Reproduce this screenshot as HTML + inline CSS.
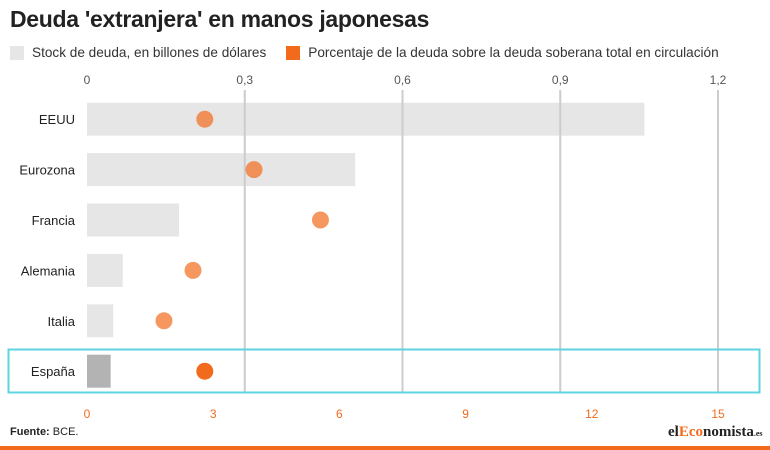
<!DOCTYPE html>
<html><head><meta charset="utf-8"><style>
body{margin:0;width:770px;height:450px;background:#fff;font-family:"Liberation Sans",sans-serif;overflow:hidden;position:relative}
</style></head><body>
<div style="position:absolute;left:10px;top:6px;font-size:23px;font-weight:bold;color:#222;letter-spacing:-0.3px">Deuda 'extranjera' en manos japonesas</div>
<div style="position:absolute;left:10px;top:45px;font-size:13.6px;color:#333;display:flex;align-items:center">
<span style="display:inline-block;width:14px;height:14px;background:#e6e6e6;margin-right:8px"></span><span>Stock de deuda, en billones de dólares</span>
<span style="display:inline-block;width:14px;height:14px;background:#f26b1d;margin:0 8px 0 20px"></span><span>Porcentaje de la deuda sobre la deuda soberana total en circulación</span>
</div>
<svg id="c" width="770" height="450" style="position:absolute;left:0;top:0"></svg>
<div style="position:absolute;left:10px;top:426px;font-size:11px;color:#222"><b>Fuente:</b> BCE.</div>
<div style="position:absolute;left:668px;top:424px;font-family:'Liberation Serif',serif;font-weight:bold;font-size:15px;color:#222">el<span style="color:#f26b1d">Eco</span>nomista<span style="font-size:8px">.es</span></div>
<div style="position:absolute;left:0;top:446px;width:770px;height:4px;background:#f26b1d"></div>
<script>
const categories=["EEUU","Eurozona","Francia","Alemania","Italia","España"];
const stockValues=[1.06,0.51,0.175,0.068,0.05,0.045];
const percentValues=[2.8,3.97,5.55,2.52,1.83,2.8];
const topTicks=[0,0.3,0.6,0.9,1.2];
const topTickLabels=["0","0,3","0,6","0,9","1,2"];
const bottomTicks=[0,3,6,9,12,15];
const NS="http://www.w3.org/2000/svg";
const svg=document.getElementById('c');
const x0=87,x1=718,rowTop=94,rowH=50.4;
const xs=v=>x0+v/1.2*(x1-x0);
const xp=v=>x0+v/15*(x1-x0);
function mk(t,a){const e=document.createElementNS(NS,t);for(const k in a)e.setAttribute(k,a[k]);svg.appendChild(e);return e;}
categories.forEach((c,i)=>{
 const cy=rowTop+rowH*(i+0.5);
 const b=mk('rect',{x:x0,y:cy-16.5,width:xs(stockValues[i])-x0,height:33,fill:i===5?'#b3b3b3':'#e6e6e6'});
 
 
 const l=mk('text',{x:75,y:cy+5,'text-anchor':'end','font-size':13,fill:'#222'});l.textContent=c;
 
 
});
topTicks.forEach((t,i)=>{
 if(t>0){
 const g=mk('line',{x1:xs(t),x2:xs(t),y1:90,y2:393,stroke:'#ccc','stroke-width':2});
 
 
 }
 const tx=mk('text',{x:xs(t),y:84,'text-anchor':'middle','font-size':12,fill:'#555'});tx.textContent=topTickLabels[i];
 
 
});
bottomTicks.forEach(t=>{
 const tx=mk('text',{x:xp(t),y:418,'text-anchor':'middle','font-size':12,fill:'#f26b1d'});tx.textContent=t;
 
 
});
const hl=mk('rect',{x:8.5,y:349.5,width:751,height:43,fill:'none',stroke:'#5fd3e0','stroke-width':2});


categories.forEach((c,i)=>{
 const cy=rowTop+rowH*(i+0.5);
 const d=mk('circle',{cx:xp(percentValues[i]),cy:cy,r:8.5,fill:'#f26b1d','fill-opacity':i===5?1:0.7});
 
 
});
</script>
</body></html>
